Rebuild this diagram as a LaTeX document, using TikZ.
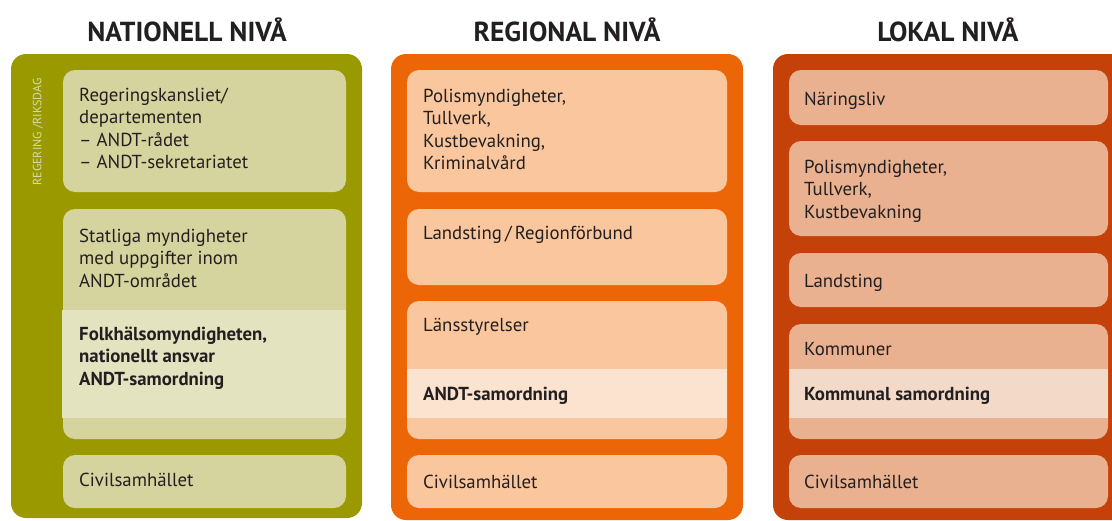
\documentclass[tikz,border=0pt]{standalone}
\usepackage{fontspec}
\setmainfont{PT Sans}
\definecolor{gpanel}{HTML}{9A9A00}
\definecolor{gbox}{HTML}{D5D49E}
\definecolor{ghi}{HTML}{E4E3C0}
\definecolor{opanel}{HTML}{EC6608}
\definecolor{obox}{HTML}{F9C69E}
\definecolor{ohi}{HTML}{FCE3D0}
\definecolor{rpanel}{HTML}{C4420A}
\definecolor{rbox}{HTML}{E9B190}
\definecolor{rhi}{HTML}{F3DAC8}
\definecolor{ink}{HTML}{231F20}
\definecolor{vtxt}{HTML}{DADAA8}
\newcommand\tl[1]{\begin{tabular}[t]{@{}l@{}}#1\end{tabular}}
\begin{document}
\begin{tikzpicture}[x=1pt,y=-1pt,
  panel/.style={rounded corners=15pt},
  boxr/.style={rounded corners=12pt},
  txt/.style={anchor=base west,inner sep=0pt,text=ink,font=\fontsize{18.8}{22.5}\selectfont},
  btxt/.style={txt,font=\fontsize{18.8}{22.8}\selectfont\bfseries},
  title/.style={anchor=base,inner sep=0pt,text=ink,font=\fontsize{27.5}{30}\selectfont\bfseries}]
\useasboundingbox (0,0) rectangle (1112,520);
% titles
\node[title] (t1) at (187,41) {NATIONELL NIVÅ};
\node[title] (t2) at (567,41) {REGIONAL NIVÅ};
\node[title] (t3) at (948,41) {LOKAL NIVÅ};
% panels
\fill[gpanel,panel] (11,54) rectangle (362,518);
\fill[opanel,panel] (391,54) rectangle (743,520);
\fill[rpanel,panel] (773,54) rectangle (1130,520);
% vertical label
\node[rotate=90,inner sep=0pt,text=vtxt,font=\fontsize{12}{14}\selectfont] (vl) at (38,132) {REGERING /RIKSDAG};
% national
\fill[gbox,boxr] (63,70) rectangle (346,192);
\fill[gbox,boxr] (63,209) rectangle (346,439);
\fill[ghi] (62,310) rectangle (346,418);
\fill[gbox,boxr] (63,455) rectangle (346,508);
\node[txt] (n1) at (79,101) {\tl{Regeringskansliet/\\departementen\\– ANDT-rådet\\– ANDT-sekretariatet}};
\node[txt] (n2) at (79,242) {\tl{Statliga myndigheter\\med uppgifter inom\\ANDT-området}};
\node[btxt] (n3) at (79,340) {\tl{Folkhälsomyndigheten,\\nationellt ansvar\\ANDT-samordning}};
\node[txt] (n4) at (79,486) {Civilsamhället};
% regional
\fill[obox,boxr] (407,70) rectangle (727,192);
\fill[obox,boxr] (407,209) rectangle (727,285);
\fill[obox,boxr] (407,301) rectangle (727,439);
\fill[ohi] (407,369) rectangle (727,418);
\fill[obox,boxr] (407,455) rectangle (727,508);
\node[txt] (r1) at (423,102) {\tl{Polismyndigheter,\\Tullverk,\\Kustbevakning,\\Kriminalvård}};
\node[txt] (r2) at (423,239) {Landsting\,/\,Regionförbund};
\node[txt] (r3) at (423,331) {Länsstyrelser};
\node[btxt] (r4) at (423,400) {ANDT-samordning};
\node[txt] (r5) at (423,488) {Civilsamhället};
% lokal
\fill[rbox,boxr] (789,70) rectangle (1108,125);
\fill[rbox,boxr] (789,141) rectangle (1108,236);
\fill[rbox,boxr] (789,253) rectangle (1108,307);
\fill[rbox,boxr] (789,324) rectangle (1108,439);
\fill[rhi] (789,369) rectangle (1108,418);
\fill[rbox,boxr] (789,455) rectangle (1108,508);
\node[txt] (l1) at (804,105) {Näringsliv};
\node[txt] (l2) at (804,173) {\tl{Polismyndigheter,\\Tullverk,\\Kustbevakning}};
\node[txt] (l3) at (804,287) {Landsting};
\node[txt] (l4) at (804,355) {Kommuner};
\node[btxt] (l5) at (804,400) {Kommunal samordning};
\node[txt] (l6) at (804,488) {Civilsamhället};
\end{tikzpicture}
\end{document}
